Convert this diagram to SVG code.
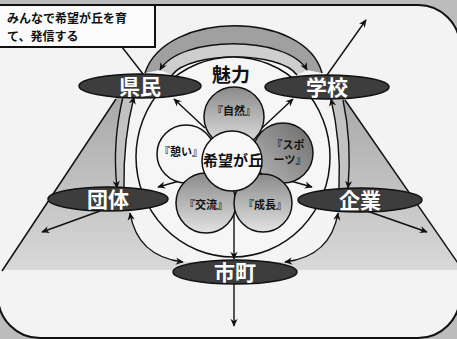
<svg xmlns="http://www.w3.org/2000/svg" width="457" height="339" viewBox="0 0 457 339">
<defs>
<style>
.ln{fill:none;stroke:#111;stroke-width:1.5}
.ar{fill:none;stroke:#111;stroke-width:1.4}
.node{fill:#3d3d3d;stroke:#111;stroke-width:1.5}
.nt{font-family:"Noto Sans CJK JP","Noto Sans",sans-serif;font-weight:bold;font-size:21px;fill:#fff;text-anchor:middle}
.pt{font-family:"Noto Sans CJK JP","Noto Sans",sans-serif;font-weight:bold;font-size:11px;fill:#111;text-anchor:middle}
.nb{font-family:"Noto Sans CJK JP","Noto Sans",sans-serif;font-weight:bold;font-size:12px;fill:#111}
.pet{stroke:#111;stroke-width:1.5}
</style>
<marker id="ah" viewBox="0 0 10 10" refX="9" refY="5" markerWidth="8" markerHeight="8" markerUnits="userSpaceOnUse" orient="auto-start-reverse">
<path d="M0,0.5 L10,5 L0,9.5 L3,5 Z" fill="#111"/>
</marker>
<linearGradient id="trap" x1="0" y1="0" x2="0" y2="1">
<stop offset="0" stop-color="#a6a6a6"/>
<stop offset="1" stop-color="#d9d9d9"/>
</linearGradient>
<linearGradient id="petA" x1="0" y1="0" x2="0" y2="1">
<stop offset="0" stop-color="#8a8a8a"/>
<stop offset="1" stop-color="#e2e2e2"/>
</linearGradient>
<linearGradient id="petB" x1="1" y1="0" x2="0" y2="1">
<stop offset="0" stop-color="#6a6a6a"/>
<stop offset="1" stop-color="#b8b8b8"/>
</linearGradient>
</defs>

<rect x="0" y="0" width="457" height="339" fill="#bcbcbc"/>
<rect x="-2" y="5" width="462" height="333" rx="42" ry="42" fill="#f3f3f3" stroke="#111" stroke-width="2"/>

<g id="backdrop">
<polygon points="122,90 338,90 462,270 2,270" fill="url(#trap)"/>
<line class="ln" x1="116" y1="99" x2="2" y2="271"/>
<line class="ln" x1="345" y1="100" x2="462" y2="269"/>
<path d="M145,73 C165,10 305,10 322,73 L343,100 Q352,142 348,188 L338,213 Q330.5,256.5 285,262 L183,262 Q137.5,256.5 130,213 L117,188 Q112,142 123,97 Z" fill="#f4f4f4"/>
<path d="M145,73 C165,10 305,10 322,73 L307,70 C287,35 180,35 160,70 Z" fill="#a0a0a0"/>
<path d="M160,70 C180,35 287,35 307,70 L297,75 C280,51 190,51 172,75 Z" fill="#cecece"/>
<path d="M123,97 Q112,142 117,188 L124,188 Q123,140 134,97 Z" fill="#c2c2c2"/>
<path d="M331,99 Q341,142 339,188 L348,188 Q352,142 343,100 Z" fill="#c2c2c2"/>
<path class="ln" d="M145,73 C165,10 305,10 322,73"/>
<path class="ln" d="M172,75 C190,51 280,51 297,75"/>
<ellipse cx="233" cy="157" rx="97" ry="100" fill="#f6f6f6" stroke="#111" stroke-width="1.5"/>
</g>

<g id="connectors">
<path class="ar" d="M160,70 C180,35 287,35 307,70" marker-start="url(#ah)" marker-end="url(#ah)"/>
<path class="ar" d="M134,97 Q123,140 124,188" marker-start="url(#ah)"/>
<path class="ar" d="M123,97 Q112,142 117,188" marker-end="url(#ah)"/>
<path class="ar" d="M331,99 Q341,142 339,188" marker-start="url(#ah)"/>
<path class="ar" d="M343,100 Q352,142 348,188" marker-end="url(#ah)"/>
<path class="ar" d="M130,213 Q137.5,256.5 183,262" marker-start="url(#ah)" marker-end="url(#ah)"/>
<path class="ar" d="M338,213 Q330.5,256.5 285,262" marker-start="url(#ah)" marker-end="url(#ah)"/>
<line class="ar" x1="205" y1="128" x2="174" y2="99" marker-end="url(#ah)"/>
<line class="ar" x1="262" y1="128" x2="293" y2="99" marker-end="url(#ah)"/>
<line class="ar" x1="183" y1="180" x2="158" y2="187" marker-end="url(#ah)"/>
<line class="ar" x1="287" y1="180" x2="312" y2="187" marker-end="url(#ah)"/>
<line class="ar" x1="234" y1="214" x2="234" y2="259" marker-end="url(#ah)"/>
<line class="ar" x1="234" y1="284" x2="234" y2="326" marker-end="url(#ah)"/>
<line class="ar" x1="100" y1="211" x2="42" y2="232" marker-end="url(#ah)"/>
<line class="ar" x1="367" y1="211" x2="427" y2="232" marker-end="url(#ah)"/>
<line class="ar" x1="327" y1="75" x2="366" y2="20" marker-end="url(#ah)"/>
<line class="ar" x1="122" y1="47" x2="143" y2="74"/>
</g>

<g id="miryoku">
<text x="231" y="82" font-family="'Noto Sans CJK JP','Noto Sans',sans-serif" font-weight="bold" font-size="19" fill="#111" text-anchor="middle">魅力</text>
</g>

<g id="petal-ikoi">
<circle class="pet" cx="186" cy="154" r="29" fill="#f6f6f6"/>
<text class="pt" x="181" y="156">『憩い』</text>
</g>
<g id="petal-shizen">
<circle class="pet" cx="234" cy="117" r="30" fill="url(#petA)"/>
<text class="pt" x="234" y="115">『自然』</text>
</g>
<g id="petal-sports">
<circle class="pet" cx="283" cy="153" r="30" fill="url(#petB)"/>
<text class="pt" x="288" y="149" font-size="10.5">『スポ</text>
<text class="pt" x="290" y="164" font-size="10.5">ーツ』</text>
</g>
<g id="petal-koryu">
<circle class="pet" cx="206" cy="203" r="30" fill="url(#petA)"/>
<text class="pt" x="206" y="209">『交流』</text>
</g>
<g id="petal-seicho">
<circle class="pet" cx="263" cy="203" r="29" fill="url(#petA)"/>
<text class="pt" x="265" y="209">『成長』</text>
</g>
<g id="center">
<circle class="pet" cx="232" cy="161" r="30" fill="#f8f8f8"/>
<text x="233" y="166" font-family="'Noto Sans CJK JP','Noto Sans',sans-serif" font-weight="bold" font-size="15" fill="#111" text-anchor="middle">希望が丘</text>
</g>

<g id="kenmin">
<ellipse class="node" cx="140" cy="86" rx="61" ry="12"/>
<text class="nt" x="140" y="94">県民</text>
</g>
<g id="gakko">
<ellipse class="node" cx="327" cy="87" rx="62" ry="12"/>
<text class="nt" x="327" y="95">学校</text>
</g>
<g id="dantai">
<ellipse class="node" cx="108" cy="199" rx="60" ry="12"/>
<text class="nt" x="108" y="207">団体</text>
</g>
<g id="kigyo">
<ellipse class="node" cx="360" cy="200" rx="62" ry="12"/>
<text class="nt" x="360" y="208">企業</text>
</g>
<g id="shicho">
<ellipse class="node" cx="235" cy="272" rx="62" ry="12"/>
<text class="nt" x="235" y="280">市町</text>
</g>

<g id="note">
<rect x="-2" y="5" width="157" height="42" fill="#fbfbfb" stroke="#111" stroke-width="2"/>
<text class="nb" x="7" y="23">みんなで希望が丘を育</text>
<text class="nb" x="7" y="41">て、発信する</text>
</g>
</svg>
